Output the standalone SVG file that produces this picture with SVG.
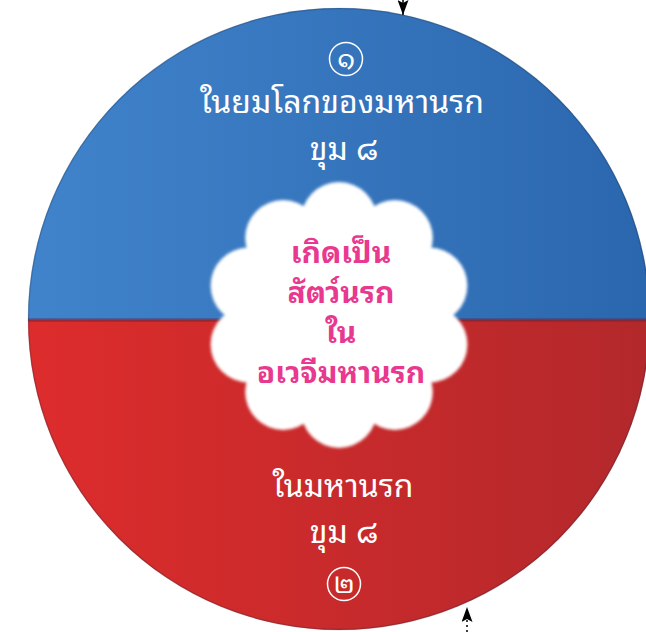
<svg xmlns="http://www.w3.org/2000/svg" width="646" height="632" viewBox="0 0 646 632">
<defs>
<style>
.wt{fill:#ffffff;font-family:"Noto Sans Thai Looped","Noto Sans Thai","Noto Sans","DejaVu Sans",sans-serif;font-size:32px;text-anchor:middle}
.pk{fill:#e8388f;font-family:"Noto Sans Thai Looped","Noto Sans Thai","Noto Sans","DejaVu Sans",sans-serif;font-size:30px;font-weight:bold;text-anchor:middle}
.num{fill:#ffffff;font-family:"Noto Sans Thai Looped","Noto Sans Thai","Noto Sans","DejaVu Sans",sans-serif;font-size:27px;text-anchor:middle}
.ring{fill:none;stroke:#ffffff;stroke-width:1.5}
.conn{stroke:#000000;stroke-width:1.5;fill:none}
</style>
<linearGradient id="gBlue" x1="0" y1="0" x2="1" y2="0">
<stop offset="0" stop-color="#4184cc"/>
<stop offset="1" stop-color="#2a66ad"/>
</linearGradient>
<linearGradient id="gRed" x1="0" y1="0" x2="1" y2="0">
<stop offset="0" stop-color="#de2c2c"/>
<stop offset="1" stop-color="#b2282b"/>
</linearGradient>
<clipPath id="circ"><circle cx="339" cy="319" r="311"/></clipPath>
<filter id="soft" x="-10%" y="-10%" width="120%" height="120%"><feGaussianBlur stdDeviation="1.6"/></filter>
<filter id="lineblur"><feGaussianBlur stdDeviation="1"/></filter>
<marker id="ah" viewBox="0 0 15 11" refX="15" refY="5.5" markerWidth="15" markerHeight="11" markerUnits="userSpaceOnUse" orient="auto">
<path d="M0,0 L15,5.5 L0,11 L3,5.5 Z" fill="#000"/>
</marker>
</defs>
<rect width="646" height="632" fill="#ffffff"/>
<g id="wheel" clip-path="url(#circ)">
<g id="upper-half"><rect x="20" y="0" width="640" height="320" fill="url(#gBlue)"/></g>
<g id="lower-half"><rect x="20" y="320" width="640" height="320" fill="url(#gRed)"/></g>
<rect x="20" y="318.5" width="640" height="3" fill="#5a2a40" opacity="0.7" filter="url(#lineblur)"/>
</g>
<circle cx="339" cy="319" r="310.5" fill="none" stroke="#1d2a40" stroke-opacity="0.25" stroke-width="1.5"/>
<g id="cloud" filter="url(#soft)" fill="#ffffff">
<circle cx="339" cy="315" r="105"/>
<circle cx="339" cy="220" r="38"/>
<circle cx="394.8" cy="238.1" r="38"/>
<circle cx="429.4" cy="285.6" r="38"/>
<circle cx="429.4" cy="344.4" r="38"/>
<circle cx="394.8" cy="391.9" r="38"/>
<circle cx="339" cy="410" r="38"/>
<circle cx="283.2" cy="391.9" r="38"/>
<circle cx="248.6" cy="344.4" r="38"/>
<circle cx="248.6" cy="285.6" r="38"/>
<circle cx="283.2" cy="238.1" r="38"/>
</g>
<g id="label-top">
<circle class="ring" cx="346" cy="59" r="16.5"/>
<text class="num" x="346" y="68">๑</text>
<text class="wt" x="342" y="113">ในยมโลกของมหานรก</text>
<text class="wt" x="344" y="160">ขุม  ๘</text>
</g>
<g id="label-center">
<text class="pk" x="341" y="263">เกิดเป็น</text>
<text class="pk" x="341" y="303">สัตว์นรก</text>
<text class="pk" x="341" y="343">ใน</text>
<text class="pk" x="341" y="383">อเวจีมหานรก</text>
</g>
<g id="label-bottom">
<text class="wt" x="343" y="497">ในมหานรก</text>
<text class="wt" x="344" y="543">ขุม  ๘</text>
<circle class="ring" cx="344" cy="584" r="16.5"/>
<text class="num" x="344" y="593">๒</text>
</g>
<g id="connectors">
<line class="conn" x1="403" y1="-5" x2="403" y2="15" marker-end="url(#ah)"/>
<line class="conn" x1="467" y1="632" x2="467" y2="607" stroke-dasharray="2 3" marker-end="url(#ah)"/>
</g>
</svg>
